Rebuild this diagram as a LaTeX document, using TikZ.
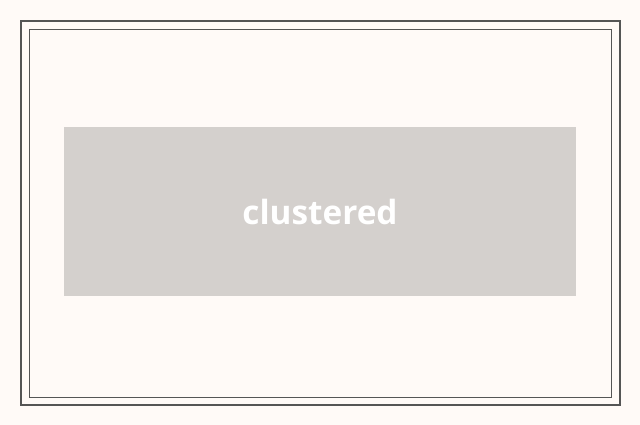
\documentclass[tikz,border=0pt]{standalone}
\usepackage{fontspec}
\setsansfont{Open Sans}
\usetikzlibrary{positioning}
\definecolor{paper}{HTML}{FFFAF7}
\definecolor{frame}{HTML}{555555}
\definecolor{boxgray}{HTML}{D4D0CD}
\tikzset{
  label box/.style={fill=boxgray, minimum width=384pt, minimum height=126.75pt, inner sep=0pt,
    text=white, font=\sffamily\bfseries\fontsize{25}{30}\selectfont}
}
\begin{document}
\begin{tikzpicture}[x=0.75pt, y=-0.75pt]
    \fill[paper] (0, 0) rectangle (640, 425);
    \useasboundingbox (0, 0) rectangle (640, 425);

    \draw[frame, line width=1.5pt] (21, 21) rectangle (620, 405);
    \draw[frame, line width=0.75pt] (29, 29) rectangle (611, 397);

    \node[label box] (clustered) at (320, 211.5) {clustered};
  \end{tikzpicture}
\end{document}
